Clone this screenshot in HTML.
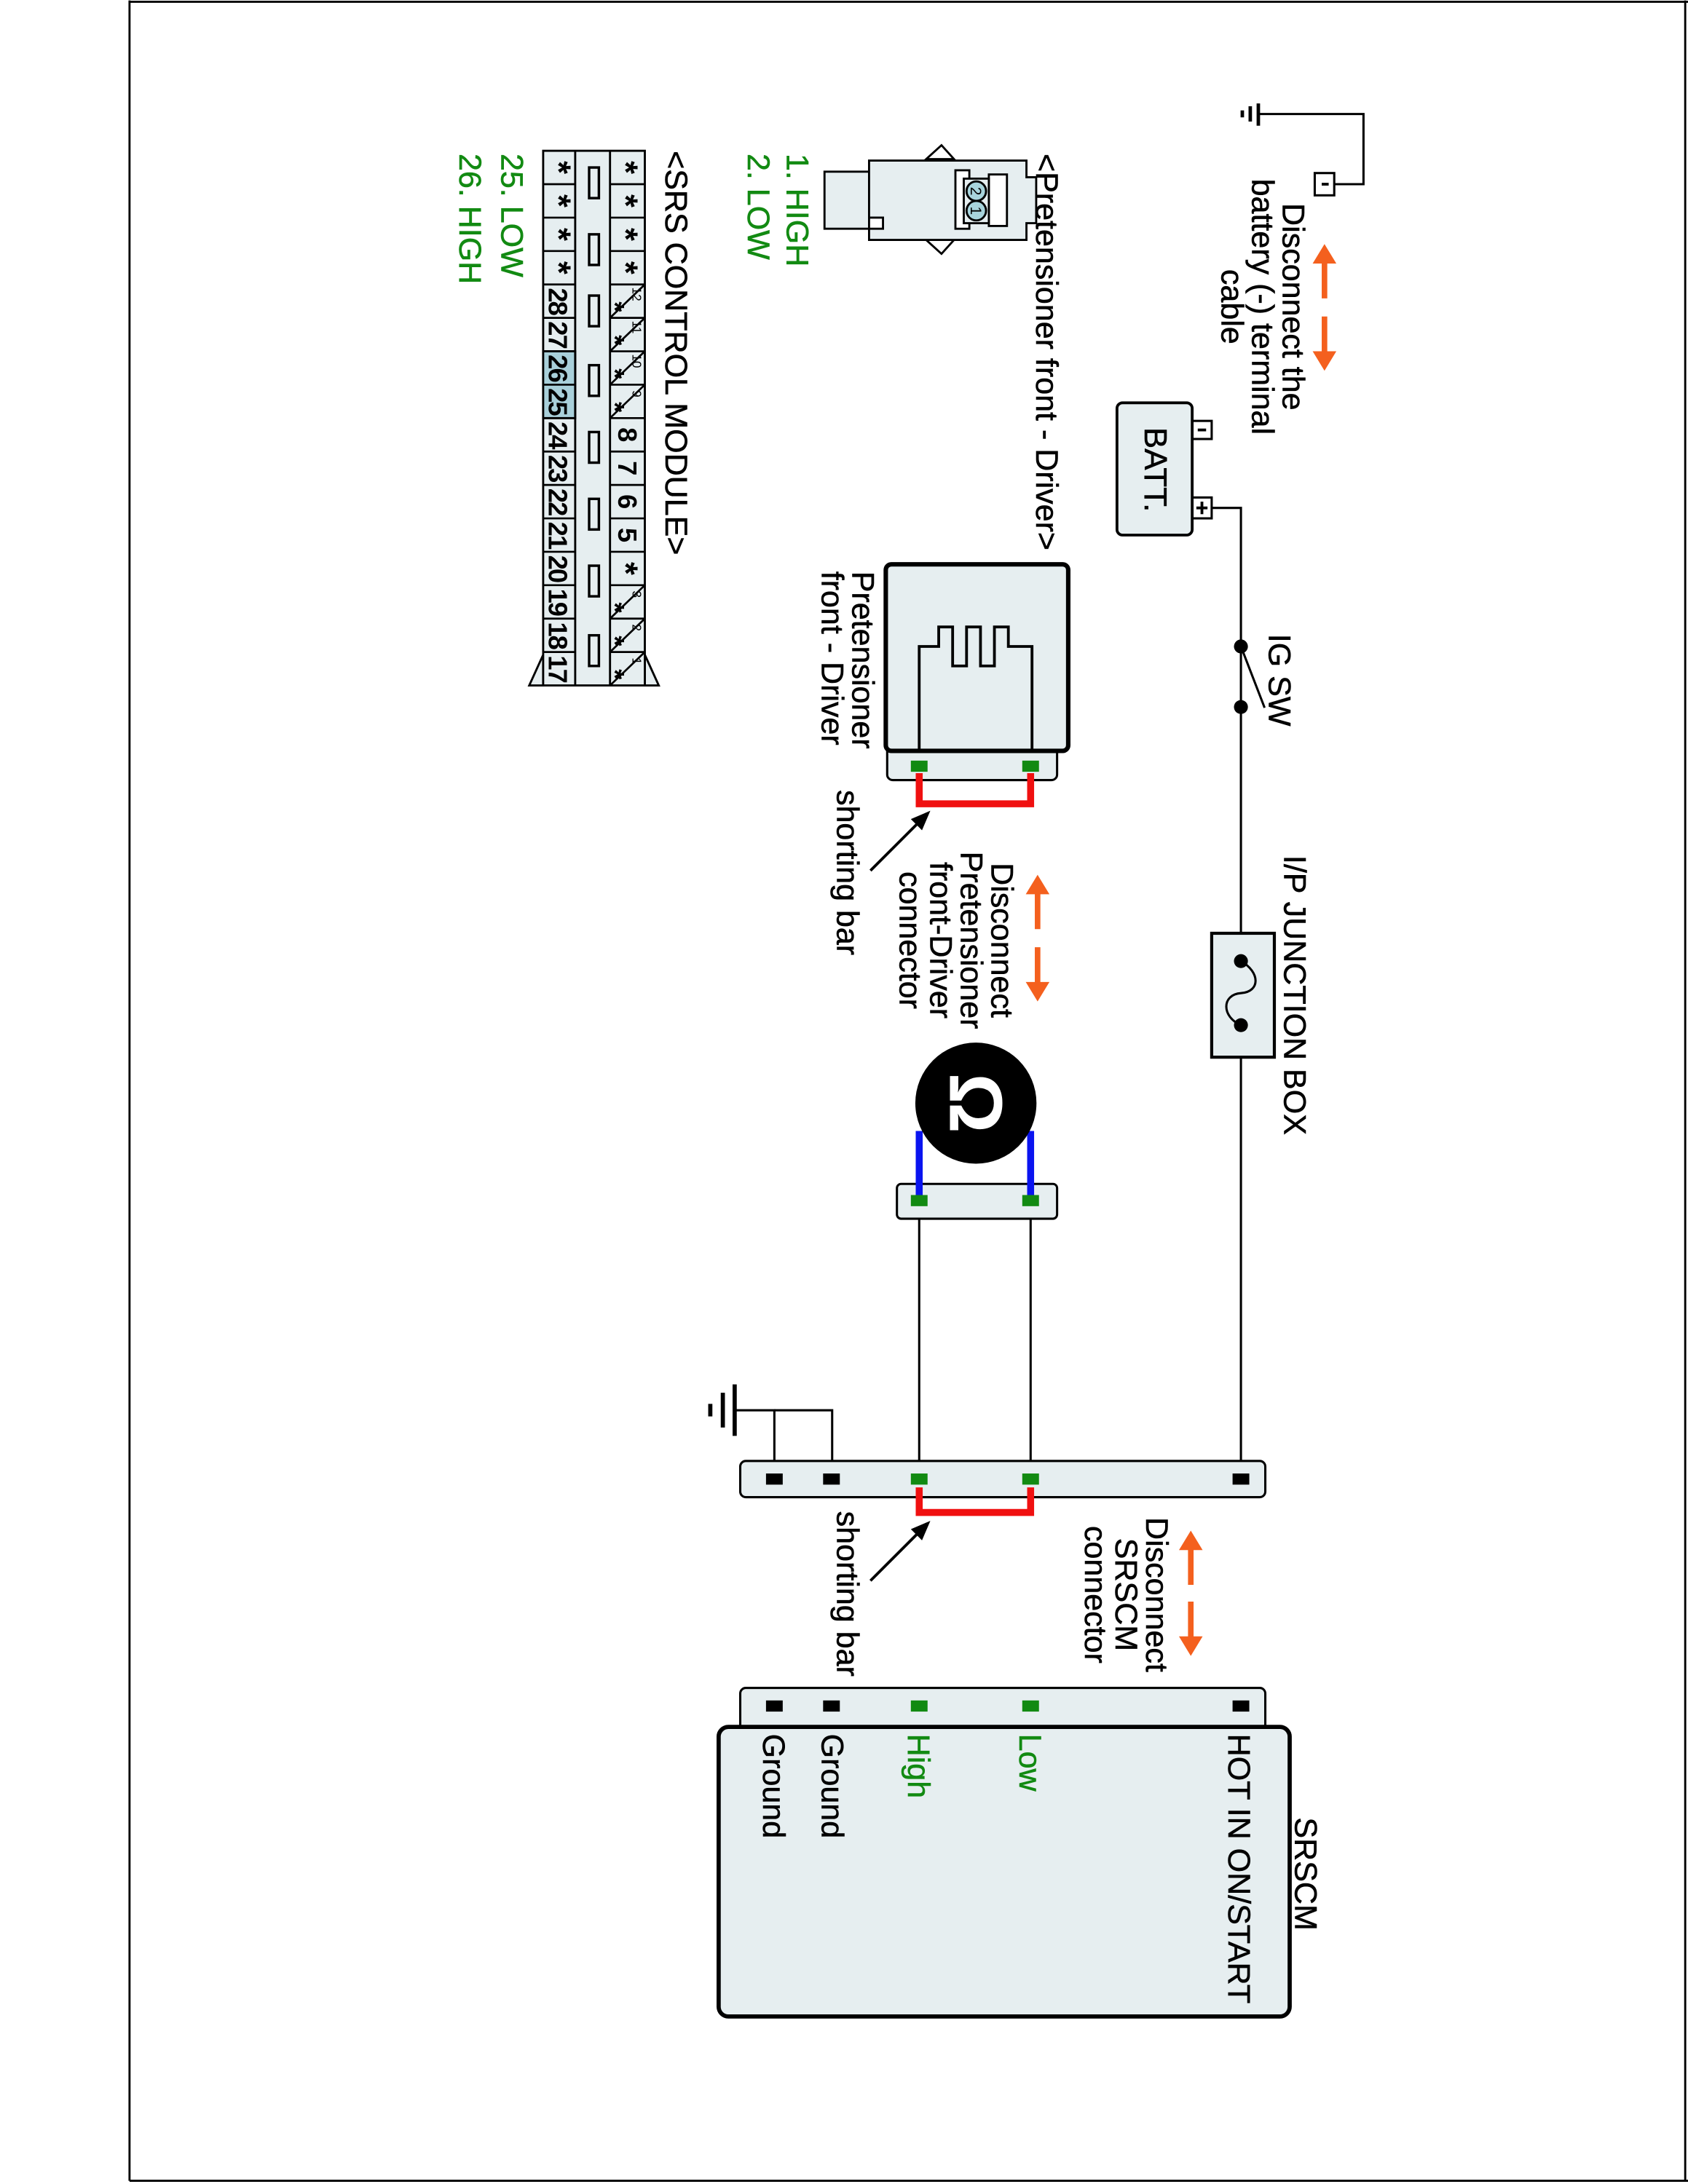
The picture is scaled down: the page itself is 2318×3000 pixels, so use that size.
<!DOCTYPE html>
<html><head><meta charset="utf-8"><style>
html,body{margin:0;padding:0;background:#fff;}
svg{display:block;}
text{font-family:"Liberation Sans",Arial,sans-serif;}
</style></head><body>
<svg width="2318" height="3000" viewBox="0 0 1212 1568" xmlns="http://www.w3.org/2000/svg">
<defs>
<g id="up"><polygon points="0,0 -8.5,14 -2,14 -2,39 2,39 2,14 8.5,14" fill="#f4601e"/></g>
<g id="dn"><polygon points="0,0 -8.5,-14 -2,-14 -2,-39 2,-39 2,-14 8.5,-14" fill="#f4601e"/></g>
</defs>
<rect width="1212" height="1568" fill="#fff"/>
<line x1="93" y1="0" x2="93" y2="1566" stroke="#000" stroke-width="1.5"/>
<line x1="93" y1="1566" x2="1212" y2="1566" stroke="#000" stroke-width="1.5"/>
<line x1="93" y1="1" x2="1212" y2="1" stroke="#000" stroke-width="1.5"/>
<line x1="1210" y1="0" x2="1210" y2="1566" stroke="#000" stroke-width="1.5"/>

<g stroke="#000" fill="none" stroke-width="1.6">
<polyline points="904,81.6 979,81.6 979,132 958,132"/>
<rect x="944" y="124" width="14" height="16" fill="#fff"/>
<line x1="903.5" y1="74" x2="903.5" y2="90" stroke-width="2.5"/>
<line x1="897.7" y1="76" x2="897.7" y2="87" stroke-width="2.5"/>
<line x1="892" y1="79" x2="892" y2="84" stroke-width="2.5"/>
<line x1="949" y1="132" x2="954" y2="132" stroke-width="2"/>
<rect x="856" y="302" width="14" height="13" fill="#fff"/>
<rect x="856" y="357" width="14" height="15" fill="#fff"/>
<rect x="802" y="289" width="54" height="95" rx="4" fill="#e6eef0" stroke-width="2"/>
<line x1="860" y1="308.5" x2="866" y2="308.5" stroke-width="2"/>
<line x1="859" y1="364.5" x2="867" y2="364.5" stroke-width="2"/><line x1="863" y1="360" x2="863" y2="369" stroke-width="2"/>
<polyline points="870,364.5 891,364.5 891,1062"/>
<line x1="891" y1="464" x2="908" y2="508"/>
<rect x="870" y="670" width="45" height="89" fill="#e6eef0" stroke-width="2.2"/>
<path d="M891,690 C905,698 905,712 891,713 C877,714 877,730 891,736"/>
<polyline points="556,1062 556,1012.6 528,1012.6"/>
<polyline points="556,1012.6 597.5,1012.6 597.5,1062"/>
<line x1="527.5" y1="994" x2="527.5" y2="1031" stroke-width="3"/>
<line x1="519" y1="1000" x2="519" y2="1025" stroke-width="3"/>
<line x1="510" y1="1008" x2="510" y2="1017" stroke-width="3"/>
<line x1="660" y1="862" x2="660" y2="1062"/>
<line x1="740" y1="862" x2="740" y2="1062"/>
<rect x="531.5" y="1049" width="377" height="26" rx="4" fill="#e6eef0"/>
<rect x="531.5" y="1212" width="377" height="34" rx="4" fill="#e6eef0"/>
<rect x="516" y="1240" width="410" height="208" rx="7" fill="#e6eef0" stroke-width="3"/>
<rect x="637" y="530" width="122" height="30" rx="4" fill="#e6eef0"/>
<rect x="636" y="405" width="131" height="134" rx="4" fill="#e6eef0" stroke-width="3.2"/>
<polyline points="660,538 660,464 674,464 674,450 684,450 684,478 694,478 694,450 704,450 704,478 714,478 714,450 724,450 724,464 741,464 741,538" stroke-width="2"/>
<rect x="644" y="850" width="115" height="25" rx="3" fill="#e6eef0"/>
</g>
<g fill="#000">
<circle cx="891" cy="464" r="5"/><circle cx="891" cy="507.5" r="5"/>
<circle cx="891" cy="690" r="5"/><circle cx="891" cy="736" r="5"/>
</g>
<line x1="660" y1="812" x2="660" y2="862" stroke="#0a14f0" stroke-width="5"/>
<line x1="740" y1="812" x2="740" y2="862" stroke="#0a14f0" stroke-width="5"/>
<circle cx="700.7" cy="792" r="43.5" fill="#000"/>
<text transform="translate(682,792) rotate(90)" text-anchor="middle" font-size="54" font-weight="bold" fill="#fff">Ω</text>
<polyline points="660,555 660,577 740,577 740,555" fill="none" stroke="#f01010" stroke-width="5"/>
<polyline points="660,1068 660,1086 740,1086 740,1068" fill="none" stroke="#f01010" stroke-width="5"/>
<g fill="#000">
<rect x="550" y="1058" width="12" height="8"/><rect x="591" y="1058" width="12" height="8"/><rect x="885" y="1058" width="12" height="8"/>
<rect x="550" y="1221" width="12" height="8"/><rect x="591" y="1221" width="12" height="8"/><rect x="885" y="1221" width="12" height="8"/>
</g>
<g fill="#128a12">
<rect x="654" y="1058" width="12" height="8"/><rect x="734" y="1058" width="12" height="8"/>
<rect x="654" y="1221" width="12" height="8"/><rect x="734" y="1221" width="12" height="8"/>
<rect x="654" y="546" width="12" height="8"/><rect x="734" y="546" width="12" height="8"/>
<rect x="654" y="858" width="12" height="8"/><rect x="734" y="858" width="12" height="8"/>
</g>
<use href="#up" x="951" y="175"/><use href="#dn" x="951" y="266"/>
<use href="#up" x="745" y="628"/><use href="#dn" x="745" y="719"/>
<use href="#up" x="855" y="1099"/><use href="#dn" x="855" y="1189"/>
<g stroke="#000" stroke-width="2">
<line x1="625" y1="625" x2="662" y2="588"/><line x1="625" y1="1135" x2="662" y2="1098"/>
</g>
<polygon points="668,582 654,588 662,596" fill="#000"/>
<polygon points="668,1092 654,1098 662,1106" fill="#000"/>

<g stroke="#000" stroke-width="1.5" fill="#e6eef0">
<path d="M665,114 L676,104 L685,114 Z M665,172 L676,182 L685,172 Z" fill="#fff"/>
<polygon points="624,123 592,123 592,164 624,164"/>
<polygon points="624,115 737,115 737,127 744,127 744,160 737,160 737,172 624,172 624,164 634,164 634,156 624,156"/>
<rect x="686" y="122" width="10" height="42" fill="#fff"/>
<rect x="710" y="125" width="13" height="37" fill="#fff"/>
<rect x="692" y="128" width="18" height="32"/>
<circle cx="701" cy="137" r="7" fill="#a8d4dc"/>
<circle cx="701" cy="151" r="7" fill="#a8d4dc"/>
</g>
<text transform="translate(697,137) rotate(90)" text-anchor="middle" font-size="11">2</text>
<text transform="translate(697,151) rotate(90)" text-anchor="middle" font-size="11">1</text>

<g stroke="#000" stroke-width="1.5" fill="#e6eef0">
<polygon points="390,470 380,492 390,492"/>
<polygon points="463,470 473,492 463,492"/>
<rect x="390" y="108" width="73" height="384"/>
<rect x="390" y="252" width="23" height="48" fill="#a9d0da"/>
<line x1="413" y1="108" x2="413" y2="492"/>
<line x1="438" y1="108" x2="438" y2="492"/>
</g>
<g stroke="#000" stroke-width="1.4" fill="none">
<line x1="390" y1="132" x2="413" y2="132"/><line x1="438" y1="132" x2="463" y2="132"/>
<line x1="390" y1="156" x2="413" y2="156"/><line x1="438" y1="156" x2="463" y2="156"/>
<line x1="390" y1="180" x2="413" y2="180"/><line x1="438" y1="180" x2="463" y2="180"/>
<line x1="390" y1="204" x2="413" y2="204"/><line x1="438" y1="204" x2="463" y2="204"/>
<line x1="390" y1="228" x2="413" y2="228"/><line x1="438" y1="228" x2="463" y2="228"/>
<line x1="390" y1="252" x2="413" y2="252"/><line x1="438" y1="252" x2="463" y2="252"/>
<line x1="390" y1="276" x2="413" y2="276"/><line x1="438" y1="276" x2="463" y2="276"/>
<line x1="390" y1="300" x2="413" y2="300"/><line x1="438" y1="300" x2="463" y2="300"/>
<line x1="390" y1="324" x2="413" y2="324"/><line x1="438" y1="324" x2="463" y2="324"/>
<line x1="390" y1="348" x2="413" y2="348"/><line x1="438" y1="348" x2="463" y2="348"/>
<line x1="390" y1="372" x2="413" y2="372"/><line x1="438" y1="372" x2="463" y2="372"/>
<line x1="390" y1="396" x2="413" y2="396"/><line x1="438" y1="396" x2="463" y2="396"/>
<line x1="390" y1="420" x2="413" y2="420"/><line x1="438" y1="420" x2="463" y2="420"/>
<line x1="390" y1="444" x2="413" y2="444"/><line x1="438" y1="444" x2="463" y2="444"/>
<line x1="390" y1="468" x2="413" y2="468"/><line x1="438" y1="468" x2="463" y2="468"/>
<line x1="438" y1="228" x2="463" y2="204"/><line x1="438" y1="252" x2="463" y2="228"/>
<line x1="438" y1="276" x2="463" y2="252"/><line x1="438" y1="300" x2="463" y2="276"/>
<line x1="438" y1="444" x2="463" y2="420"/><line x1="438" y1="468" x2="463" y2="444"/>
<line x1="438" y1="492" x2="463" y2="468"/>
<rect x="423" y="120" width="7" height="22" stroke-width="1.8"/><rect x="423" y="168" width="7" height="22" stroke-width="1.8"/>
<rect x="423" y="212" width="7" height="22" stroke-width="1.8"/><rect x="423" y="262" width="7" height="22" stroke-width="1.8"/>
<rect x="423" y="310" width="7" height="22" stroke-width="1.8"/><rect x="423" y="358" width="7" height="22" stroke-width="1.8"/>
<rect x="423" y="406" width="7" height="22" stroke-width="1.8"/><rect x="423" y="456" width="7" height="22" stroke-width="1.8"/>
</g>
<g font-size="24" font-weight="bold" text-anchor="middle">
<text transform="translate(441,120) rotate(90)">*</text><text transform="translate(441,144) rotate(90)">*</text>
<text transform="translate(441,168) rotate(90)">*</text><text transform="translate(441,192) rotate(90)">*</text>
<text transform="translate(393,120) rotate(90)">*</text><text transform="translate(393,144) rotate(90)">*</text>
<text transform="translate(393,168) rotate(90)">*</text><text transform="translate(393,192) rotate(90)">*</text>
<text transform="translate(441,408) rotate(90)">*</text>
<g font-size="19">
<text transform="translate(435,220) rotate(90)">*</text><text transform="translate(435,244) rotate(90)">*</text>
<text transform="translate(435,268) rotate(90)">*</text><text transform="translate(435,292) rotate(90)">*</text>
<text transform="translate(435,436) rotate(90)">*</text><text transform="translate(435,460) rotate(90)">*</text>
<text transform="translate(435,484) rotate(90)">*</text>
</g>
</g>
<g font-size="19" font-weight="bold" text-anchor="middle">
<text transform="translate(444,312) rotate(90)">8</text><text transform="translate(444,336) rotate(90)">7</text>
<text transform="translate(444,360) rotate(90)">6</text><text transform="translate(444,384) rotate(90)">5</text>
<text transform="translate(394,216) rotate(90)" letter-spacing="-1">28</text><text transform="translate(394,240) rotate(90)" letter-spacing="-1">27</text>
<text transform="translate(394,264) rotate(90)" letter-spacing="-1">26</text><text transform="translate(394,288) rotate(90)" letter-spacing="-1">25</text>
<text transform="translate(394,312) rotate(90)" letter-spacing="-1">24</text><text transform="translate(394,336) rotate(90)" letter-spacing="-1">23</text>
<text transform="translate(394,360) rotate(90)" letter-spacing="-1">22</text><text transform="translate(394,384) rotate(90)" letter-spacing="-1">21</text>
<text transform="translate(394,408) rotate(90)" letter-spacing="-1">20</text><text transform="translate(394,432) rotate(90)" letter-spacing="-1">19</text>
<text transform="translate(394,456) rotate(90)" letter-spacing="-1">18</text><text transform="translate(394,480) rotate(90)" letter-spacing="-1">17</text>
</g>
<g font-size="9">
<text transform="translate(454,206) rotate(90)">12</text><text transform="translate(454,230) rotate(90)">11</text>
<text transform="translate(454,254) rotate(90)">10</text><text transform="translate(454,280) rotate(90)">9</text>
<text transform="translate(454,424) rotate(90)">3</text><text transform="translate(454,448) rotate(90)">2</text>
<text transform="translate(454,472) rotate(90)">1</text>
</g>

<g font-size="22.5" fill="#000" stroke="#000" stroke-width="0.3">
<text transform="translate(921,220) rotate(90)" text-anchor="middle">Disconnect the</text>
<text transform="translate(899,220) rotate(90)" text-anchor="middle">battery (-) terminal</text>
<text transform="translate(877,220) rotate(90)" text-anchor="middle">cable</text>
<text transform="translate(822,337) rotate(90)" text-anchor="middle" font-size="23">BATT.</text>
<text transform="translate(911,455) rotate(90)">IG SW</text>
<text transform="translate(922,614) rotate(90)">I/P JUNCTION BOX</text>
<text transform="translate(823,1145) rotate(90)" text-anchor="middle">Disconnect</text>
<text transform="translate(801,1145) rotate(90)" text-anchor="middle">SRSCM</text>
<text transform="translate(779,1145) rotate(90)" text-anchor="middle">connector</text>
<text transform="translate(601,1085) rotate(90)">shorting bar</text>
<text transform="translate(601,567) rotate(90)">shorting bar</text>
<text transform="translate(712,675) rotate(90)" text-anchor="middle">Disconnect</text>
<text transform="translate(690,675) rotate(90)" text-anchor="middle">Pretensioner</text>
<text transform="translate(668,675) rotate(90)" text-anchor="middle">front-Driver</text>
<text transform="translate(646,675) rotate(90)" text-anchor="middle">connector</text>
<text transform="translate(612,410) rotate(90)">Pretensioner</text>
<text transform="translate(590,410) rotate(90)">front - Driver</text>
<text transform="translate(744,110) rotate(90)">&lt;Pretensioner front - Driver&gt;</text>
<text transform="translate(478,108) rotate(90)">&lt;SRS CONTROL MODULE&gt;</text>
<text transform="translate(882,1245) rotate(90)">HOT IN ON/START</text>
<text transform="translate(590,1245) rotate(90)">Ground</text>
<text transform="translate(548,1245) rotate(90)">Ground</text>
<text transform="translate(930,1305) rotate(90)">SRSCM</text>
</g>
<g font-size="22.5" fill="#128a12" stroke="#128a12" stroke-width="0.3">
<text transform="translate(732,1245) rotate(90)">Low</text>
<text transform="translate(652,1245) rotate(90)">High</text>
<text transform="translate(565,110) rotate(90)">1. HIGH</text>
<text transform="translate(537,110) rotate(90)">2. LOW</text>
<text transform="translate(360,110) rotate(90)">25. LOW</text>
<text transform="translate(330,110) rotate(90)">26. HIGH</text>
</g>
</svg>
</body></html>
